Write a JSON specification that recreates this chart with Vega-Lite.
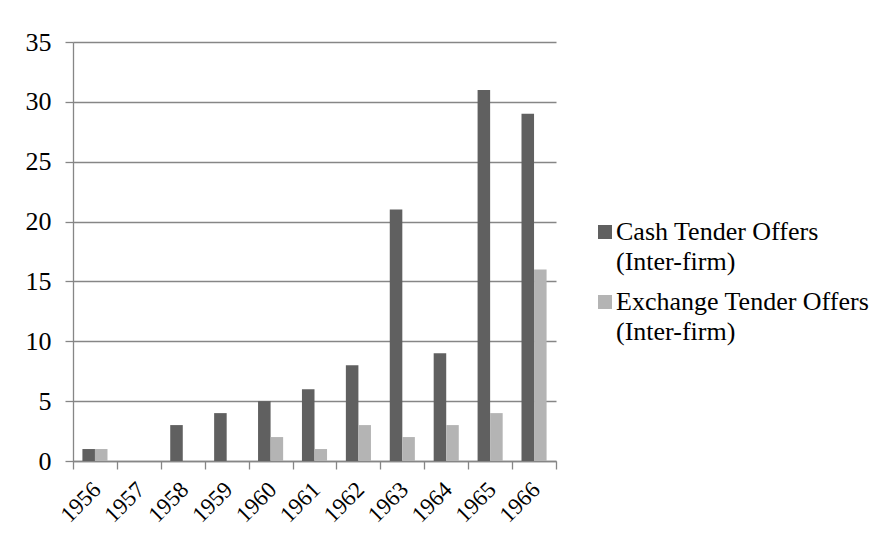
{
  "$schema": "https://vega.github.io/schema/vega-lite/v6.json",
  "width": 483,
  "height": 419,
  "autosize": {"type": "none"},
  "padding": {"left": 73, "top": 42, "right": 332, "bottom": 80},
  "background": "white",
  "config": {
    "view": {"stroke": null},
    "font": "Liberation Serif",
    "axis": {"labelFont": "Liberation Serif", "labelFontSize": 26, "labelColor": "black", "domainColor": "#868686", "tickColor": "#868686", "gridColor": "#868686", "domainWidth": 1.3, "tickWidth": 1.3, "gridWidth": 1.3, "tickSize": 8},
    "legend": {"labelFont": "Liberation Serif", "labelFontSize": 26, "labelColor": "black", "padding": 0}
  },
  "data": {
    "values": [
      {"year": "1956", "series": "Cash Tender Offers|(Inter-firm)", "value": 1},
      {"year": "1956", "series": "Exchange Tender Offers|(Inter-firm)", "value": 1},
      {"year": "1957", "series": "Cash Tender Offers|(Inter-firm)", "value": 0},
      {"year": "1957", "series": "Exchange Tender Offers|(Inter-firm)", "value": 0},
      {"year": "1958", "series": "Cash Tender Offers|(Inter-firm)", "value": 3},
      {"year": "1958", "series": "Exchange Tender Offers|(Inter-firm)", "value": 0},
      {"year": "1959", "series": "Cash Tender Offers|(Inter-firm)", "value": 4},
      {"year": "1959", "series": "Exchange Tender Offers|(Inter-firm)", "value": 0},
      {"year": "1960", "series": "Cash Tender Offers|(Inter-firm)", "value": 5},
      {"year": "1960", "series": "Exchange Tender Offers|(Inter-firm)", "value": 2},
      {"year": "1961", "series": "Cash Tender Offers|(Inter-firm)", "value": 6},
      {"year": "1961", "series": "Exchange Tender Offers|(Inter-firm)", "value": 1},
      {"year": "1962", "series": "Cash Tender Offers|(Inter-firm)", "value": 8},
      {"year": "1962", "series": "Exchange Tender Offers|(Inter-firm)", "value": 3},
      {"year": "1963", "series": "Cash Tender Offers|(Inter-firm)", "value": 21},
      {"year": "1963", "series": "Exchange Tender Offers|(Inter-firm)", "value": 2},
      {"year": "1964", "series": "Cash Tender Offers|(Inter-firm)", "value": 9},
      {"year": "1964", "series": "Exchange Tender Offers|(Inter-firm)", "value": 3},
      {"year": "1965", "series": "Cash Tender Offers|(Inter-firm)", "value": 31},
      {"year": "1965", "series": "Exchange Tender Offers|(Inter-firm)", "value": 4},
      {"year": "1966", "series": "Cash Tender Offers|(Inter-firm)", "value": 29},
      {"year": "1966", "series": "Exchange Tender Offers|(Inter-firm)", "value": 16}
    ]
  },
  "mark": {"type": "bar"},
  "encoding": {
    "x": {
      "field": "year", "type": "nominal", "title": null,
      "scale": {"paddingInner": 0, "paddingOuter": 0},
      "axis": {"labelAngle": -45, "tickBand": "extent", "labelFontSize": 23, "labelPadding": 9, "labelOffset": -6, "grid": false}
    },
    "xOffset": {
      "field": "series", "type": "nominal",
      "scale": {"paddingInner": 0, "paddingOuter": 0.75}
    },
    "y": {
      "field": "value", "type": "quantitative", "title": null,
      "scale": {"domain": [0, 35], "nice": false},
      "axis": {"values": [0, 5, 10, 15, 20, 25, 30, 35], "grid": true, "labelPadding": 14}
    },
    "color": {
      "field": "series", "type": "nominal", "title": null,
      "scale": {"range": ["#606060", "#b4b4b4"]},
      "legend": {
        "orient": "none", "legendX": 519, "legendY": 177,
        "padding": 0,
        "labelExpr": "split(datum.label, '|')",
        "labelFont": "Liberation Serif",
        "labelFontSize": 26,
        "labelColor": "black",
        "symbolType": "square",
        "symbolSize": 196,
        "symbolStrokeWidth": 0,
        "symbolOpacity": 1,
        "labelOffset": -2,
        "labelLimit": 400,
        "rowPadding": 14,
        "encode": {"labels": {"update": {"lineHeight": {"value": 30}, "font": {"value": "Liberation Serif"}, "fontSize": {"value": 26}}}}
      }
    }
  }
}
